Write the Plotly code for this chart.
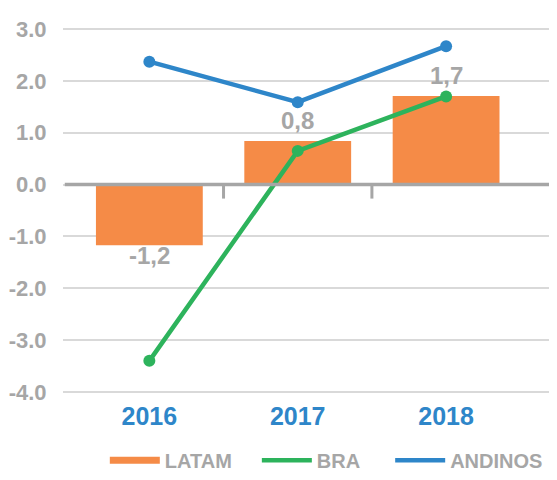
import plotly.graph_objects as go

years = ["2016", "2017", "2018"]
latam = [-1.17, 0.84, 1.71]
bra = [-3.4, 0.65, 1.7]
andinos = [2.37, 1.59, 2.67]
y_ticks = [-4.0, -3.0, -2.0, -1.0, 0.0, 1.0, 2.0, 3.0]

ORANGE = "#F58B47"
GREEN = "#2DB35C"
BLUE = "#2E86C9"
GRAY = "#A6A6A6"
FONT = "Liberation Sans, Arial, sans-serif"

xpos = list(range(len(years)))
labels = [f"{v:.1f}".replace(".", ",") for v in latam]
y_ticktext = [f"{v:.1f}" for v in y_ticks]

fig = go.Figure()
fig.add_trace(go.Bar(
    x=xpos, y=latam, width=0.72, marker=dict(color=ORANGE, line=dict(width=0)),
    name="LATAM", showlegend=False,
))
fig.add_trace(go.Scatter(
    x=xpos, y=bra, mode="lines+markers", name="BRA", showlegend=False,
    line=dict(color=GREEN, width=4.5), marker=dict(size=12, color=GREEN),
))
fig.add_trace(go.Scatter(
    x=xpos, y=andinos, mode="lines+markers", name="ANDINOS", showlegend=False,
    line=dict(color=BLUE, width=4.5), marker=dict(size=12, color=BLUE),
))
# bar value labels
for xi, v, t in zip(xpos, latam, labels):
    fig.add_annotation(
        x=xi, y=v, text=t, showarrow=False, xref="x", yref="y",
        yanchor="top" if v < 0 else "bottom", yshift=5,
        font=dict(family=FONT, size=24, color=GRAY, weight="bold"),
    )

# legend entries, each in its own legend so positions can be matched
legend_names = ["legend", "legend2", "legend3"]
legend_x = [0.085, 0.394, 0.665]
for (name, col, w), lg in zip([("LATAM", ORANGE, 7), ("BRA", GREEN, 4.5), ("ANDINOS", BLUE, 4.5)],
                              legend_names):
    fig.add_trace(go.Scatter(x=[None], y=[None], mode="lines", name=name, legend=lg,
                             line=dict(color=col, width=w)))

# category boundary tick marks on the zero line
for xb in [0.5, 1.5, 2.71]:
    fig.add_shape(type="line", x0=xb, x1=xb, y0=0, y1=-0.27, xref="x", yref="y",
                  line=dict(color=GRAY, width=3), layer="above")
fig.add_shape(type="line", x0=-0.57, x1=2.72, y0=0, y1=0, xref="x", yref="y",
              line=dict(color=GRAY, width=3.5), layer="above")

legend_style = dict(orientation="h", xanchor="left", yref="container", y=0.058,
                    yanchor="middle", bgcolor="rgba(0,0,0,0)",
                    font=dict(family=FONT, size=20, color=GRAY, weight="bold"),
                    itemwidth=50, tracegroupgap=0)

fig.update_layout(
    width=557, height=480,
    margin=dict(l=55, r=10, t=20, b=95, autoexpand=False),
    plot_bgcolor="white", paper_bgcolor="white",
    font=dict(family=FONT, color=GRAY),
    legend=dict(x=legend_x[0], **legend_style),
    legend2=dict(x=legend_x[1], **legend_style),
    legend3=dict(x=legend_x[2], **legend_style),
)
fig.update_xaxes(
    range=[-0.582, 2.734], tickvals=xpos, ticktext=years,
    tickfont=dict(family=FONT, size=25, color=BLUE, weight="bold"),
    ticks="outside", ticklen=1, tickcolor="rgba(0,0,0,0)",
    showgrid=False, zeroline=False, showline=False,
)
fig.update_yaxes(
    range=[-4.02, 3.02], tickvals=y_ticks, ticktext=y_ticktext,
    tickfont=dict(family=FONT, size=22, color=GRAY, weight="bold"),
    ticks="outside", ticklen=11, tickcolor="rgba(0,0,0,0)",
    showgrid=True, gridcolor="#D9D9D9", gridwidth=1.5,
    zeroline=False, showline=False,
)

fig.write_html("out.html")
